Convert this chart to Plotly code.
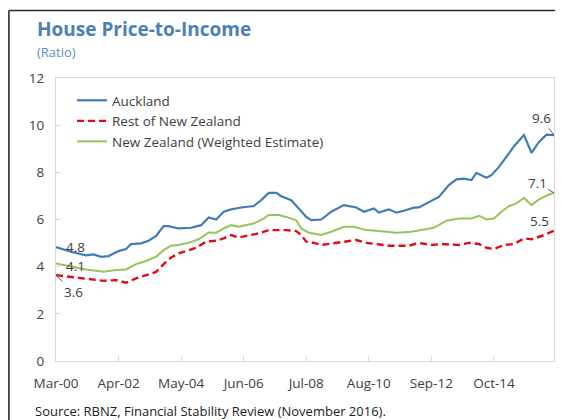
import plotly.graph_objects as go

# ---------------- data (months since Mar-2000) ----------------
auckland_months = [0, 6, 12, 15, 18, 21, 25, 28, 30, 34, 37, 40, 43, 45, 49, 54, 58, 61, 64, 67, 70, 74, 79, 82, 85, 88, 90, 94, 97, 100, 102, 106, 110, 115, 120, 123, 127, 129, 133, 136, 139, 143, 145, 148, 153, 157, 160, 163, 166, 168, 172, 174, 177, 181, 183, 187, 190, 193, 196, 199]
auckland_values = [4.83, 4.63, 4.48, 4.52, 4.42, 4.45, 4.66, 4.75, 4.96, 4.99, 5.10, 5.30, 5.72, 5.72, 5.62, 5.65, 5.76, 6.09, 6.00, 6.33, 6.43, 6.51, 6.57, 6.82, 7.13, 7.13, 6.99, 6.82, 6.47, 6.11, 5.97, 6.00, 6.33, 6.61, 6.51, 6.33, 6.47, 6.30, 6.43, 6.29, 6.37, 6.50, 6.51, 6.68, 6.96, 7.46, 7.70, 7.73, 7.67, 7.98, 7.77, 7.88, 8.23, 8.80, 9.11, 9.58, 8.83, 9.29, 9.60, 9.58]

rest_months = [0, 3, 6, 11, 15, 19, 24, 28, 32, 36, 40, 43, 46, 49, 53, 56, 60, 64, 67, 70, 73, 77, 81, 85, 89, 92, 96, 98, 100, 103, 106, 111, 116, 120, 124, 129, 133, 141, 145, 150, 154, 161, 165, 169, 172, 175, 179, 183, 187, 190, 194, 199]
rest_values = [3.64, 3.60, 3.55, 3.50, 3.46, 3.40, 3.43, 3.32, 3.50, 3.64, 3.78, 4.11, 4.39, 4.56, 4.70, 4.80, 5.06, 5.10, 5.20, 5.34, 5.24, 5.34, 5.41, 5.55, 5.55, 5.55, 5.51, 5.34, 5.06, 5.01, 4.92, 4.99, 5.08, 5.13, 5.01, 4.96, 4.89, 4.89, 5.01, 4.92, 4.96, 4.92, 5.01, 4.96, 4.80, 4.75, 4.92, 4.96, 5.20, 5.16, 5.30, 5.52]

nz_months = [0, 6, 12, 19, 24, 28, 32, 36, 40, 43, 46, 49, 53, 57, 61, 64, 67, 70, 73, 77, 79, 83, 85, 89, 92, 96, 98, 101, 106, 110, 115, 119, 124, 129, 136, 142, 147, 151, 156, 161, 166, 169, 172, 175, 178, 181, 184, 187, 190, 193, 197, 199]
nz_values = [4.14, 4.00, 3.88, 3.78, 3.86, 3.88, 4.11, 4.24, 4.42, 4.70, 4.89, 4.92, 5.01, 5.16, 5.45, 5.44, 5.62, 5.76, 5.69, 5.79, 5.83, 6.04, 6.19, 6.19, 6.11, 5.97, 5.62, 5.44, 5.34, 5.48, 5.69, 5.69, 5.55, 5.51, 5.44, 5.48, 5.58, 5.65, 5.95, 6.04, 6.04, 6.16, 6.00, 6.04, 6.33, 6.57, 6.68, 6.92, 6.61, 6.85, 7.06, 7.13]

tick_months = [0, 25, 50, 75, 100, 125, 150, 175]
tick_labels = ["Mar-00", "Apr-02", "May-04", "Jun-06", "Jul-08", "Aug-10", "Sep-12", "Oct-14"]

series_names = ["Auckland", "Rest of New Zealand", "New Zealand (Weighted Estimate)"]

# ---------------- layout geometry ----------------
# the page body has an 8px margin and only ~555px of width is visible
OFF = 8
W, H = 547, 412
L, T = 56 - OFF, 78 - OFF
PW, PH = 498, 283
R = W - L - PW
B = H - T - PH


def px2x(px):
    """page pixel x -> paper x"""
    return (px - OFF - L) / PW


def py2y(py):
    """page pixel y -> paper y"""
    return (H - B - (py - OFF)) / PH


BLUE = "#3f7cb8"
RED = "#e00b16"
GREEN = "#97c45a"
TXT = "#404040"
FONT = "Open Sans, Noto Sans, sans-serif"

fig = go.Figure()
fig.add_trace(go.Scatter(x=auckland_months, y=auckland_values, mode="lines",
                         name=series_names[0], line=dict(color=BLUE, width=2.2)))
fig.add_trace(go.Scatter(x=rest_months, y=rest_values, mode="lines",
                         name=series_names[1], line=dict(color=RED, width=2.4, dash="7px,4px")))
fig.add_trace(go.Scatter(x=nz_months, y=nz_values, mode="lines",
                         name=series_names[2], line=dict(color=GREEN, width=2)))

ann = []
# title + subtitle
ann.append(dict(text="<b>House Price-to-Income</b>", x=px2x(35), y=py2y(29), xref="paper", yref="paper",
                xanchor="left", yanchor="middle", showarrow=False,
                font=dict(family=FONT, size=19, color="#4a7fb8")))
ann.append(dict(text="(Ratio)", x=px2x(35), y=py2y(52), xref="paper", yref="paper",
                xanchor="left", yanchor="middle", showarrow=False,
                font=dict(family=FONT, size=13, color="#5b8fc4")))
# source
ann.append(dict(text="Source: RBNZ, Financial Stability Review (November 2016).", x=px2x(33), y=py2y(411),
                xref="paper", yref="paper", xanchor="left", yanchor="middle", showarrow=False,
                font=dict(family=FONT, size=13, color="#222222")))

lab_font = dict(family=FONT, size=13.5, color=TXT)
# start labels
ann.append(dict(text=f"{auckland_values[0]:.1f}", x=auckland_months[0], y=auckland_values[0],
                xanchor="left", yanchor="middle", xshift=8, showarrow=False, font=lab_font))
ann.append(dict(text=f"{nz_values[0]:.1f}", x=nz_months[0], y=nz_values[0],
                xanchor="left", yanchor="middle", xshift=8, yshift=-3, showarrow=False, font=lab_font))
ann.append(dict(text=f"{rest_values[0]:.1f}", x=rest_months[0], y=rest_values[0],
                showarrow=True, arrowhead=0, arrowwidth=1, arrowcolor="#595959",
                ax=17, ay=17, font=lab_font))
# end labels
ann.append(dict(text=f"{auckland_values[-1]:.1f}", x=auckland_months[-1], y=auckland_values[-1],
                showarrow=True, arrowhead=0, arrowwidth=1, arrowcolor="#595959",
                ax=-13, ay=-17, font=lab_font))
ann.append(dict(text=f"{nz_values[-1]:.1f}", x=nz_months[-1], y=nz_values[-1],
                showarrow=True, arrowhead=0, arrowwidth=1, arrowcolor="#595959",
                ax=-17, ay=-10, font=lab_font))
ann.append(dict(text=f"{rest_values[-1]:.1f}", x=rest_months[-1], y=rest_values[-1],
                xanchor="center", yanchor="middle", xshift=-15, yshift=10, showarrow=False, font=lab_font))

shapes = [
    dict(type="line", xref="paper", yref="paper", x0=px2x(8.9), x1=px2x(8.9), y0=py2y(10.5), y1=py2y(430),
         line=dict(color="#2b2b2b", width=1.6)),
    dict(type="line", xref="paper", yref="paper", x0=px2x(8.9), x1=px2x(570), y0=py2y(10.5), y1=py2y(10.5),
         line=dict(color="#2b2b2b", width=1.6)),
]

fig.update_layout(
    width=W, height=H,
    margin=dict(l=L, r=R, t=T, b=B, pad=0),
    paper_bgcolor="white", plot_bgcolor="white",
    font=dict(family=FONT, size=13.5, color=TXT),
    showlegend=True,
    legend=dict(x=px2x(72), y=py2y(85), xanchor="left", yanchor="top",
                bgcolor="rgba(0,0,0,0)", font=dict(family=FONT, size=13.5, color=TXT),
                tracegroupgap=0, itemclick=False),
    annotations=ann,
    shapes=shapes,
)
fig.update_xaxes(range=[0, 199], tickvals=tick_months, ticktext=tick_labels,
                 showline=True, linecolor="#d9d9d9", linewidth=1, mirror=True,
                 ticks="inside", ticklen=5, tickcolor="#d9d9d9",
                 showgrid=False, zeroline=False, ticklabelstandoff=10,
                 tickfont=dict(family=FONT, size=13.5, color=TXT))
fig.update_yaxes(range=[0, 12], dtick=2, tick0=0,
                 showline=True, linecolor="#d9d9d9", linewidth=1, mirror=True,
                 ticks="inside", ticklen=4, tickcolor="#d9d9d9",
                 showgrid=False, zeroline=False, ticklabelstandoff=8,
                 tickfont=dict(family=FONT, size=13.5, color=TXT))

fig.write_html("out.html")
